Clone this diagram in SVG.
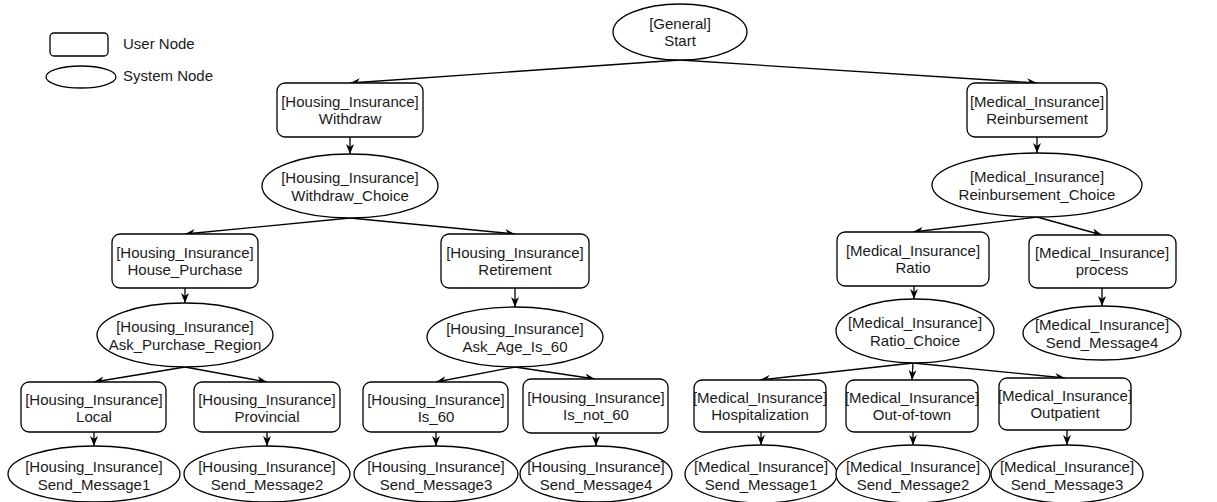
<svg xmlns="http://www.w3.org/2000/svg" width="1217" height="502" viewBox="0 0 1217 502">
<style>
.n{fill:#fff;stroke:#000;stroke-width:1.3}
.t{font-family:"Liberation Sans",Arial,Helvetica,sans-serif;font-size:15px;fill:#1a1a1a;text-anchor:middle}
.l{font-family:"Liberation Sans",Arial,Helvetica,sans-serif;font-size:15px;fill:#1a1a1a}
.c{stroke:#000;stroke-width:1.3;fill:none;marker-end:url(#arr)}
</style>
<defs>
<marker id="arr" viewBox="0 0 10 8" refX="10" refY="4" markerWidth="10" markerHeight="8" markerUnits="userSpaceOnUse" orient="auto">
<path d="M0,0 L10,4 L0,8 L3,4 z" fill="#000"/>
</marker>
</defs>
<rect width="1217" height="502" fill="#fff"/>
<g id="legend">
<rect class="n" x="50" y="33" width="58" height="23" rx="4"/>
<text class="l" x="123" y="49">User Node</text>
<ellipse class="n" cx="81" cy="77" rx="35" ry="11"/>
<text class="l" x="123" y="81">System Node</text>
</g>
<g id="connectors">
<line class="c" x1="680" y1="60" x2="350" y2="83"/>
<line class="c" x1="680" y1="60" x2="1037" y2="83"/>
<line class="c" x1="350" y1="137" x2="350" y2="154"/>
<line class="c" x1="1037" y1="137" x2="1037" y2="153"/>
<line class="c" x1="350" y1="218" x2="185" y2="234"/>
<line class="c" x1="350" y1="218" x2="515" y2="234"/>
<line class="c" x1="1037" y1="217" x2="913" y2="232"/>
<line class="c" x1="1037" y1="217" x2="1102" y2="235"/>
<line class="c" x1="185" y1="288" x2="185" y2="303"/>
<line class="c" x1="515" y1="288" x2="515" y2="307"/>
<line class="c" x1="914" y1="286" x2="914" y2="299"/>
<line class="c" x1="1102" y1="288" x2="1102" y2="306"/>
<line class="c" x1="185" y1="367" x2="94" y2="382"/>
<line class="c" x1="185" y1="367" x2="267" y2="382"/>
<line class="c" x1="515" y1="367" x2="436" y2="382"/>
<line class="c" x1="515" y1="367" x2="595" y2="379"/>
<line class="c" x1="913" y1="363" x2="760" y2="380"/>
<line class="c" x1="913" y1="363" x2="912" y2="380"/>
<line class="c" x1="913" y1="363" x2="1065" y2="378"/>
<line class="c" x1="94" y1="432" x2="94" y2="446"/>
<line class="c" x1="267" y1="432" x2="267" y2="446"/>
<line class="c" x1="436" y1="432" x2="436" y2="446"/>
<line class="c" x1="596" y1="433" x2="596" y2="446"/>
<line class="c" x1="761" y1="432" x2="761" y2="445"/>
<line class="c" x1="913" y1="432" x2="913" y2="445"/>
<line class="c" x1="1067" y1="430" x2="1067" y2="445"/>
</g>
<g id="start"><ellipse class="n" cx="680" cy="32" rx="67" ry="28"/><text class="t" x="680" y="29">[General]<tspan x="680" dy="17">Start</tspan></text></g>
<g id="h_withdraw"><rect class="n" x="277" y="83" width="146" height="54" rx="8"/><text class="t" x="350" y="107">[Housing_Insurance]<tspan x="350" dy="17">Withdraw</tspan></text></g>
<g id="m_reimbursement"><rect class="n" x="967" y="83" width="140" height="54" rx="8"/><text class="t" x="1037" y="107">[Medical_Insurance]<tspan x="1037" dy="17">Reinbursement</tspan></text></g>
<g id="h_withdraw_choice"><ellipse class="n" cx="350" cy="186" rx="88" ry="32"/><text class="t" x="350" y="183">[Housing_Insurance]<tspan x="350" dy="18">Withdraw_Choice</tspan></text></g>
<g id="m_reimbursement_choice"><ellipse class="n" cx="1037" cy="185" rx="105" ry="32"/><text class="t" x="1037" y="182">[Medical_Insurance]<tspan x="1037" dy="18">Reinbursement_Choice</tspan></text></g>
<g id="h_house_purchase"><rect class="n" x="112" y="234" width="146" height="54" rx="8"/><text class="t" x="185" y="258">[Housing_Insurance]<tspan x="185" dy="17">House_Purchase</tspan></text></g>
<g id="h_retirement"><rect class="n" x="441" y="234" width="148" height="54" rx="8"/><text class="t" x="515" y="258">[Housing_Insurance]<tspan x="515" dy="17">Retirement</tspan></text></g>
<g id="m_ratio"><rect class="n" x="837" y="232" width="152" height="54" rx="8"/><text class="t" x="913" y="256">[Medical_Insurance]<tspan x="913" dy="17">Ratio</tspan></text></g>
<g id="m_process"><rect class="n" x="1029" y="235" width="147" height="53" rx="8"/><text class="t" x="1102" y="258">[Medical_Insurance]<tspan x="1102" dy="17">process</tspan></text></g>
<g id="h_ask_region"><ellipse class="n" cx="185" cy="335" rx="88" ry="32"/><text class="t" x="185" y="332">[Housing_Insurance]<tspan x="185" dy="18">Ask_Purchase_Region</tspan></text></g>
<g id="h_ask_age"><ellipse class="n" cx="515" cy="337" rx="88" ry="30"/><text class="t" x="515" y="334">[Housing_Insurance]<tspan x="515" dy="18">Ask_Age_Is_60</tspan></text></g>
<g id="m_ratio_choice"><ellipse class="n" cx="915" cy="331" rx="79" ry="32"/><text class="t" x="915" y="328">[Medical_Insurance]<tspan x="915" dy="18">Ratio_Choice</tspan></text></g>
<g id="m_send4"><ellipse class="n" cx="1102" cy="333" rx="79" ry="27"/><text class="t" x="1102" y="330">[Medical_Insurance]<tspan x="1102" dy="18">Send_Message4</tspan></text></g>
<g id="h_local"><rect class="n" x="21" y="382" width="145" height="50" rx="8"/><text class="t" x="94" y="405">[Housing_Insurance]<tspan x="94" dy="17">Local</tspan></text></g>
<g id="h_provincial"><rect class="n" x="194" y="382" width="146" height="50" rx="8"/><text class="t" x="267" y="405">[Housing_Insurance]<tspan x="267" dy="17">Provincial</tspan></text></g>
<g id="h_is60"><rect class="n" x="363" y="382" width="145" height="50" rx="8"/><text class="t" x="436" y="405">[Housing_Insurance]<tspan x="436" dy="17">Is_60</tspan></text></g>
<g id="h_isnot60"><rect class="n" x="523" y="379" width="145" height="54" rx="8"/><text class="t" x="596" y="403">[Housing_Insurance]<tspan x="596" dy="17">Is_not_60</tspan></text></g>
<g id="m_hospitalization"><rect class="n" x="694" y="380" width="132" height="52" rx="8"/><text class="t" x="760" y="403">[Medical_Insurance]<tspan x="760" dy="17">Hospitalization</tspan></text></g>
<g id="m_outoftown"><rect class="n" x="846" y="380" width="132" height="52" rx="8"/><text class="t" x="912" y="403">[Medical_Insurance]<tspan x="912" dy="17">Out-of-town</tspan></text></g>
<g id="m_outpatient"><rect class="n" x="999" y="378" width="132" height="52" rx="8"/><text class="t" x="1065" y="401">[Medical_Insurance]<tspan x="1065" dy="17">Outpatient</tspan></text></g>
<g id="h_send1"><ellipse class="n" cx="94" cy="474" rx="86" ry="28"/><text class="t" x="94" y="472">[Housing_Insurance]<tspan x="94" dy="18">Send_Message1</tspan></text></g>
<g id="h_send2"><ellipse class="n" cx="267" cy="474" rx="83" ry="28"/><text class="t" x="267" y="472">[Housing_Insurance]<tspan x="267" dy="18">Send_Message2</tspan></text></g>
<g id="h_send3"><ellipse class="n" cx="436" cy="474" rx="82" ry="28"/><text class="t" x="436" y="472">[Housing_Insurance]<tspan x="436" dy="18">Send_Message3</tspan></text></g>
<g id="h_send4"><ellipse class="n" cx="596" cy="474" rx="76" ry="28"/><text class="t" x="596" y="472">[Housing_Insurance]<tspan x="596" dy="18">Send_Message4</tspan></text></g>
<g id="m_send1"><ellipse class="n" cx="761" cy="474" rx="76" ry="29"/><text class="t" x="761" y="472">[Medical_Insurance]<tspan x="761" dy="18">Send_Message1</tspan></text></g>
<g id="m_send2"><ellipse class="n" cx="913" cy="474" rx="77" ry="29"/><text class="t" x="913" y="472">[Medical_Insurance]<tspan x="913" dy="18">Send_Message2</tspan></text></g>
<g id="m_send3"><ellipse class="n" cx="1067" cy="474" rx="76" ry="29"/><text class="t" x="1067" y="472">[Medical_Insurance]<tspan x="1067" dy="18">Send_Message3</tspan></text></g>
</svg>
